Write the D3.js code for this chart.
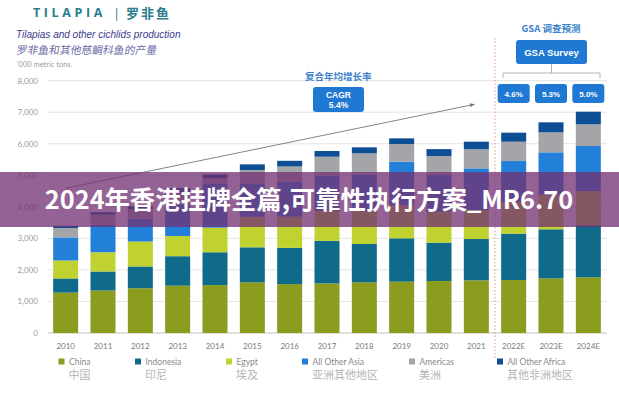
<!DOCTYPE html>
<html><head><meta charset="utf-8">
<script src="https://cdn.jsdelivr.net/npm/d3@7"></script>
<style>
html,body{margin:0;padding:0;background:#fff;}
svg{display:block;}
</style></head>
<body>
<script>
const years = ["2010","2011","2012","2013","2014","2015","2016","2017","2018","2019","2020","2021","2022E","2023E","2024E"];
const china     = [1280,1350,1420,1500,1520,1607,1550,1570,1607,1628,1649,1670,1680,1734,1766];
const indonesia = [450,600,690,935,1040,1110,1150,1350,1215,1374,1215,1310,1470,1554,1654];
const egypt     = [570,610,790,640,780,970,990,950,1050,1050,980,920,1000,1100,1080];
const otherAsia = [730,870,720,1000,1400,1060,1110,1120,1150,1380,1164,1320,1303,1341,1429];
const americas  = [300,320,300,380,165,420,480,600,675,560,602,605,613,634,688];
const otherAfrica = [70,80,100,145,125,180,180,180,190,180,221,241,286,317,400];
const seriesNames = ["China","Indonesia","Egypt","All Other Asia","Americas","All Other Africa"];
const seriesNamesZh = ["中国","印尼","埃及","亚洲其他地区","美洲","其他非洲地区"];
const seriesColors = ["#8b9c1f","#106b8a","#bfd22f","#2380d8","#a3a5a8","#0d4e95"];
const yTicks = [0,1000,2000,3000,4000,5000,6000,7000,8000];
const gsaRates = ["4.6%","5.3%","5.0%"];
const gsaYears = ["2022E","2023E","2024E"];

const W=619,H=400;
const svg=d3.select("body").append("svg").attr("width",W).attr("height",H);
const cjk="'Noto Sans CJK SC','Noto Sans',sans-serif";
const lat="Lato,'Open Sans',sans-serif";

const x=d3.scaleBand().domain(years).range([47,607]).paddingInner(0.33).paddingOuter(0.165);
const y=d3.scaleLinear().domain([0,8000]).range([333,80.7]);

// gridlines
svg.append("g").selectAll("line").data(yTicks.filter(d=>d>0)).join("line")
 .attr("x1",48).attr("x2",607).attr("y1",d=>y(d)).attr("y2",d=>y(d))
 .attr("stroke","#e4e4e4").attr("stroke-width",1);
svg.append("line").attr("x1",48).attr("x2",607).attr("y1",y(0)).attr("y2",y(0)).attr("stroke","#c4c4c4").attr("stroke-width",1.2);

// y labels
svg.append("g").selectAll("text").data(yTicks).join("text")
 .attr("x",38).attr("y",d=>y(d)+3).attr("text-anchor","end")
 .attr("font-family",lat).attr("font-size",8).attr("fill","#9a9a9a")
 .text(d=>d3.format(",")(d));
svg.append("text").attr("x",17).attr("y",67).attr("font-family",lat).attr("font-size",7.5).attr("fill","#9a9a9a").text("'000 metric tons");

// stacked bars
const rows=years.map((yr,i)=>({year:yr,"China":china[i],"Indonesia":indonesia[i],"Egypt":egypt[i],"All Other Asia":otherAsia[i],"Americas":americas[i],"All Other Africa":otherAfrica[i]}));
const stack=d3.stack().keys(seriesNames)(rows);
svg.append("g").selectAll("g").data(stack).join("g").attr("fill",(d,i)=>seriesColors[i])
 .selectAll("rect").data(d=>d).join("rect")
 .attr("x",d=>x(d.data.year)).attr("width",x.bandwidth())
 .attr("y",d=>y(d[1])).attr("height",d=>y(d[0])-y(d[1]));

// x labels
svg.append("g").selectAll("text").data(years).join("text")
 .attr("x",d=>x(d)+x.bandwidth()/2).attr("y",349).attr("text-anchor","middle")
 .attr("font-family",lat).attr("font-size",8).attr("fill","#7a7a7a").text(d=>d);

// dashed forecast divider
const divX=(x("2021")+x.bandwidth()+x("2022E"))/2;
svg.append("line").attr("x1",divX).attr("x2",divX).attr("y1",38).attr("y2",360)
 .attr("stroke","#e07a7a").attr("stroke-width",0.8).attr("stroke-dasharray","1.5,2");

// CAGR arrow
const defs=svg.append("defs");
defs.append("marker").attr("id","ah").attr("viewBox","0 0 10 10").attr("refX",8).attr("refY",5)
 .attr("markerWidth",6).attr("markerHeight",6).attr("orient","auto")
 .append("path").attr("d","M0,1 L9,5 L0,9 z").attr("fill","#777");
svg.append("line").attr("x1",x("2010")+x.bandwidth()/2).attr("y1",y(4590))
 .attr("x2",x("2021")+x.bandwidth()/2-2).attr("y2",y(7250))
 .attr("stroke","#777").attr("stroke-width",0.9).attr("marker-end","url(#ah)");

// CAGR labels
svg.append("text").attr("x",305).attr("y",80).attr("font-family",cjk).attr("font-size",9.5).attr("font-weight","bold").attr("fill","#3a82cc").text("复合年均增长率");
svg.append("rect").attr("x",313).attr("y",87).attr("width",51).attr("height",25).attr("rx",3).attr("fill","#1f78d1");
svg.append("text").attr("x",338.5).attr("y",97.5).attr("text-anchor","middle").attr("font-family","'Liberation Sans',Arial,sans-serif").attr("font-size",8.5).attr("font-weight","bold").attr("fill","#fff").text("CAGR");
svg.append("text").attr("x",338.5).attr("y",108).attr("text-anchor","middle").attr("font-family","'Liberation Sans',Arial,sans-serif").attr("font-size",8.5).attr("font-weight","bold").attr("fill","#fff").text("5.4%");

// GSA labels
svg.append("text").attr("x",551).attr("y",32).attr("text-anchor","middle").attr("font-family",cjk).attr("font-size",9.5).attr("font-weight","bold").attr("fill","#3a82cc").text("GSA 调查预测");
svg.append("rect").attr("x",516).attr("y",40).attr("width",71).attr("height",24).attr("rx",3).attr("fill","#1f78d1");
svg.append("text").attr("x",551.5).attr("y",55.5).attr("text-anchor","middle").attr("font-family","'Liberation Sans',Arial,sans-serif").attr("font-size",9.5).attr("font-weight","bold").attr("fill","#fff").text("GSA Survey");
svg.append("path").attr("d","M503,78 L503,73 L600,73 L600,78 M551.5,73 L551.5,64").attr("fill","none").attr("stroke","#aaa").attr("stroke-width",0.9);
const gsa=svg.append("g").selectAll("g").data(gsaYears).join("g");
gsa.append("rect").attr("x",d=>x(d)+x.bandwidth()/2-16).attr("y",84).attr("width",32).attr("height",19).attr("rx",3).attr("fill","#1f78d1");
gsa.append("text").attr("x",d=>x(d)+x.bandwidth()/2).attr("y",96.5).attr("text-anchor","middle").attr("font-family","'Liberation Sans',Arial,sans-serif").attr("font-size",8).attr("font-weight","bold").attr("fill","#fff").text((d,i)=>gsaRates[i]);

// title
svg.append("text").attr("x",33).attr("y",17).attr("font-family","'Open Sans',sans-serif").attr("font-size",12.5).attr("font-weight","bold").attr("letter-spacing",3.6).attr("fill","#2a7d8c").text("TILAPIA");
svg.append("text").attr("x",113).attr("y",18).attr("font-family","'Open Sans',sans-serif").attr("font-size",13).attr("fill","#2a7d8c").text("|");
svg.append("text").attr("x",126).attr("y",18).attr("font-family",cjk).attr("font-size",13).attr("font-weight","bold").attr("letter-spacing",2).attr("fill","#2a7d8c").text("罗非鱼");
svg.append("text").attr("x",16).attr("y",38).attr("font-family","'Liberation Sans',Arial,sans-serif").attr("font-style","italic").attr("font-size",10).attr("fill","#3b3b8c").text("Tilapias and other cichlids production");
svg.append("text").attr("x",16).attr("y",54).attr("font-family",cjk).attr("font-size",10.8).attr("fill","#6b6ba8").attr("transform","skewX(-10) translate(9.5,0)").text("罗非鱼和其他慈鲷科鱼的产量");

// legend
const legX=[61.5,138,229,305,412,500];
const leg=svg.append("g").selectAll("g").data(seriesNames).join("g").attr("transform",(d,i)=>`translate(${legX[i]},0)`);
leg.append("rect").attr("x",-3).attr("y",358.5).attr("width",6).attr("height",6).attr("fill",(d,i)=>seriesColors[i]);
leg.append("text").attr("x",7.5).attr("y",364.5).attr("font-family",lat).attr("font-size",8.5).attr("fill","#8a8a8a").text(d=>d);
leg.append("text").attr("x",7).attr("y",378.5).attr("font-family",cjk).attr("font-size",11).attr("fill","#b4b4b4").text((d,i)=>seriesNamesZh[i]);

// overlay banner
svg.append("rect").attr("x",0).attr("y",172).attr("width",W).attr("height",55).attr("fill","rgba(114,48,114,0.76)");
svg.append("text").attr("x",309).attr("y",209).attr("text-anchor","middle").attr("font-family",cjk).attr("font-size",25.3).attr("font-weight","bold").attr("fill","#fff").text("2024年香港挂牌全篇,可靠性执行方案_MR6.70");
</script>
</body></html>
